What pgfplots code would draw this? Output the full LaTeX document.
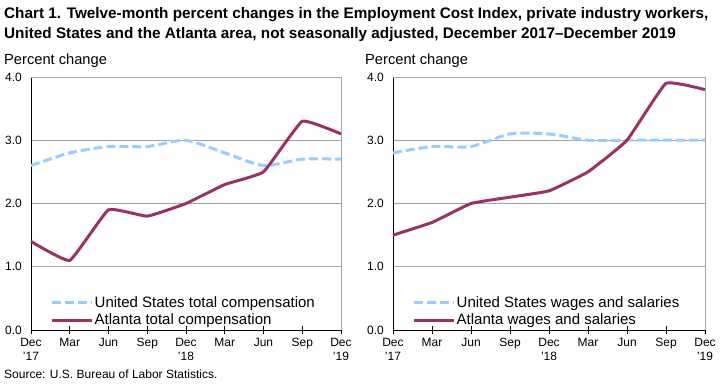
\documentclass[border=0pt]{standalone}
\usepackage{pgfplots}
\pgfplotsset{compat=1.18}
\usepackage{fontspec}
\setmainfont{Liberation Sans}
\definecolor{usblue}{HTML}{99CCFF}
\definecolor{atlred}{HTML}{993366}
\definecolor{gridgray}{HTML}{A6A6A6}
\pgfplotsset{
  bls/.style={
    scale only axis, width=310pt, height=253pt,
    xmin=0, xmax=8, ymin=0, ymax=4,
    axis lines*=left,
    axis line style={black, line width=0.8pt, -},
    xtick={0,1,2,3,4,5,6,7,8},
    xticklabels={Dec\\'17,Mar,Jun,Sep,Dec\\'18,Mar,Jun,Sep,Dec\\'19},
    xtick align=center,
    major tick length=8pt,
    xtick style={black, line width=0.8pt},
    ytick={0,1,2,3,4},
    ytick style={draw=none},
    ymajorgrids,
    grid style={gridgray, line width=0.8pt},
    /pgf/number format/assume math mode=true,
    /pgf/number format/.cd, fixed, fixed zerofill, precision=1, /pgfplots/.cd,
    xticklabel style={align=center, anchor=north, inner sep=0pt, font=\fontsize{12}{14}\selectfont, yshift=-4pt},
    yticklabel style={anchor=east, inner sep=0pt, font=\fontsize{12}{14}\selectfont, xshift=-9pt},
    legend style={draw=none, fill=none, at={(16pt,0pt)}, anchor=south west,
      font=\fontsize{15}{16}\selectfont, row sep=2pt, column sep=0pt,
      nodes={inner sep=1.5pt}},
    legend cell align=left,
    legend image code/.code={\draw[##1] (0pt,0pt) -- (40pt,0pt);},
    clip=false,
  },
  usline/.style={usblue, line width=3pt, dash pattern=on 9pt off 4pt, smooth, tension=0.4},
  atline/.style={atlred, line width=3pt, smooth, tension=0.2},
}
\begin{document}
\begin{tikzpicture}[x=1pt,y=1pt]
\path[use as bounding box] (0,0) rectangle (720,390);
\node[anchor=base west, inner sep=0pt, font=\fontsize{15.3}{18}\selectfont\bfseries] at (4,371) {Chart 1. Twelve-month percent changes in the Employment Cost Index, private industry workers,};
\node[anchor=base west, inner sep=0pt, font=\fontsize{15.3}{18}\selectfont\bfseries] at (4,351) {United States and the Atlanta area, not seasonally adjusted, December 2017--December 2019};
\node[anchor=base west, inner sep=0pt, font=\fontsize{14.67}{18}\selectfont] at (4,325) {Percent change};
\node[anchor=base west, inner sep=0pt, font=\fontsize{14.67}{18}\selectfont] at (365,325) {Percent change};
\node[anchor=base west, inner sep=0pt, font=\fontsize{12}{14}\selectfont] at (4,11) {Source: U.S. Bureau of Labor Statistics.};

\begin{axis}[bls, at={(31pt,60pt)}, anchor=south west]
\draw[gridgray, line width=0.8pt] (rel axis cs:0,1) -- (rel axis cs:1,1) -- (rel axis cs:1,0);
\addplot[usline] coordinates {(0,2.6) (1,2.8) (2,2.9) (3,2.9) (4,3.0) (5,2.8) (6,2.6) (7,2.7) (8,2.7)};
\addlegendentry{United States total compensation}
\addplot[atline] coordinates {(0,1.4) (1,1.1) (2,1.9) (3,1.8) (4,2.0) (5,2.3) (6,2.5) (7,3.3) (8,3.1)};
\addlegendentry{Atlanta total compensation}
\end{axis}

\begin{axis}[bls, at={(393pt,60pt)}, anchor=south west, width=312pt]
\draw[gridgray, line width=0.8pt] (rel axis cs:0,1) -- (rel axis cs:1,1) -- (rel axis cs:1,0);
\addplot[usline] coordinates {(0,2.8) (1,2.9) (2,2.9) (3,3.1) (4,3.1) (5,3.0) (6,3.0) (7,3.0) (8,3.0)};
\addlegendentry{United States wages and salaries}
\addplot[atline] coordinates {(0,1.5) (1,1.7) (2,2.0) (3,2.1) (4,2.2) (5,2.5) (6,3.0) (7,3.9) (8,3.8)};
\addlegendentry{Atlanta wages and salaries}
\end{axis}
\end{tikzpicture}
\end{document}
